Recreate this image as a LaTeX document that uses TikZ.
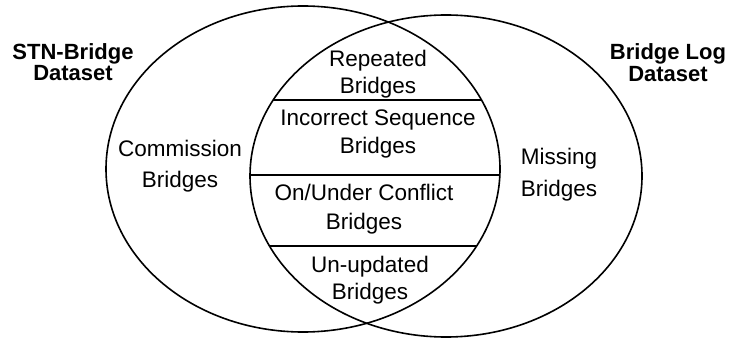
\documentclass[tikz,border=0pt]{standalone}
\usepackage{fontspec}
\setmainfont{Liberation Sans}
\begin{document}
\begin{tikzpicture}[x=1pt,y=-1pt,
  ring/.style={draw=black,line width=1.6pt},
  divider/.style={draw=black,line width=1.3pt},
  lbl/.style={align=center,inner sep=0pt,font=\fontsize{22.5}{#1}\selectfont},
  ttl/.style={align=center,inner sep=0pt,font=\fontsize{22}{#1}\selectfont\bfseries}]
\useasboundingbox (0,0) rectangle (730,339);
% ellipses
\coordinate (cL) at (303,169);
\coordinate (cR) at (446,176);
\path[ring] (cL) ellipse [x radius=197pt, y radius=163pt];
\path[ring] (cR) ellipse [x radius=196pt, y radius=161pt];
% dividers inside the lens
\begin{scope}
  \clip (cL) ellipse [x radius=197pt, y radius=163pt];
  \clip (cR) ellipse [x radius=196pt, y radius=161pt];
  \coordinate (a1) at (230,100); \coordinate (b1) at (520,100);
  \coordinate (a2) at (230,175); \coordinate (b2) at (520,175);
  \coordinate (a3) at (230,246); \coordinate (b3) at (520,246);
  \draw[divider] (a1) -- (b1);
  \draw[divider] (a2) -- (b2);
  \draw[divider] (a3) -- (b3);
\end{scope}
% labels
\node[ttl=21] (stn) at (73,62.5) {STN-Bridge\\Dataset};
\node[ttl=22] (blog) at (668,63) {Bridge Log\\Dataset};
\node[lbl=31] (comm) at (180,166) {Commission\\Bridges};
\node[lbl=27] (rep) at (378,74) {Repeated\\Bridges};
\node[lbl=28] (inc) at (378,134) {Incorrect Sequence\\Bridges};
\node[lbl=29] (onu) at (364,209) {On/Under Conflict\\Bridges};
\node[lbl=27] (unu) at (370,280) {Un-updated\\Bridges};
\node[lbl=32] (mis) at (559,175) {Missing\\Bridges};
\end{tikzpicture}
\end{document}
